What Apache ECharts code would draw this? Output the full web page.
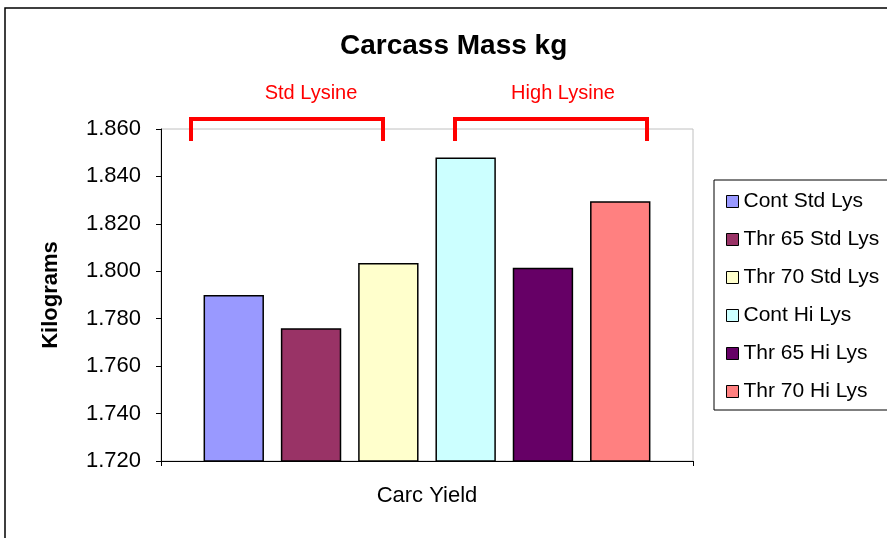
<!DOCTYPE html>
<html>
<head>
<meta charset="utf-8">
<script src="https://cdn.jsdelivr.net/npm/echarts@6/dist/echarts.min.js"></script>
<style>
  html, body { margin: 0; padding: 0; background: #fff; }
  #chart { width: 887px; height: 538px; }
</style>
</head>
<body>
<div id="chart"></div>
<script>
var categories = ['Carc Yield'];
var seriesNames = ['Cont Std Lys', 'Thr 65 Std Lys', 'Thr 70 Std Lys', 'Cont Hi Lys', 'Thr 65 Hi Lys', 'Thr 70 Hi Lys'];
var seriesValues = [1.790, 1.776, 1.8035, 1.848, 1.8015, 1.8295];
var seriesColors = ['#9999FF', '#993366', '#FFFFCC', '#CCFFFF', '#660066', '#FF8080'];
var groupLabels = ['Std Lysine', 'High Lysine'];

var font = 'Liberation Sans, Arial, sans-serif';
var chart = echarts.init(document.getElementById('chart'));

var series = seriesNames.map(function (name, i) {
    return {
        name: name,
        type: 'bar',
        data: [seriesValues[i]],
        barGap: '28%',
        barCategoryGap: '16%',
        itemStyle: { color: seriesColors[i], borderColor: '#000', borderWidth: 1.5 }
    };
});

chart.setOption({
    backgroundColor: '#fff',
    animation: false,
    title: {
        text: 'Carcass Mass kg',
        left: 340,
        top: 32,
        padding: 0,
        textStyle: { fontFamily: font, fontSize: 28, fontWeight: 'bold', color: '#000' }
    },
    grid: { //plot area
        left: 161,
        right: 194,
        top: 129,
        bottom: 77,
        show: true,
        borderColor: '#c0c0c0',
        borderWidth: 1
    },
    legend: {
        orient: 'vertical',
        left: 721,
        top: 186,
        itemWidth: 12,
        itemHeight: 12,
        itemGap: 17,
        icon: 'rect',
        textStyle: { fontFamily: font, fontSize: 21, color: '#000' },
        itemStyle: { borderColor: '#000', borderWidth: 1 },
        data: seriesNames
    },
    xAxis: {
        type: 'category',
        data: categories,
        name: 'Carc Yield',
        nameLocation: 'middle',
        nameGap: 24,
        nameTextStyle: { fontFamily: font, fontSize: 22, color: '#000' },
        axisLabel: { show: false },
        axisLine: { lineStyle: { color: '#000', width: 1 } },
        axisTick: { show: true, length: 5, lineStyle: { color: '#000' } }
    },
    yAxis: {
        type: 'value',
        min: 1.72,
        max: 1.86,
        interval: 0.02,
        name: 'Kilograms',
        nameLocation: 'middle',
        nameRotate: 90,
        nameGap: 99,
        nameTextStyle: { fontFamily: font, fontSize: 22, fontWeight: 'bold', color: '#000' },
        axisLine: { show: true, lineStyle: { color: '#000', width: 1 } },
        axisTick: { show: true, length: 5, lineStyle: { color: '#000' } },
        splitLine: { show: false },
        axisLabel: {
            fontFamily: font,
            fontSize: 22,
            color: '#000',
            margin: 20,
            formatter: function (v) { return v.toFixed(3); }
        }
    },
    graphic: [
        // outer chart frame
        { type: 'rect', shape: { x: 5, y: 8, width: 900, height: 560 }, style: { fill: null, stroke: '#000', lineWidth: 1.5 }, z: -1 },
        // legend frame
        { type: 'rect', shape: { x: 714, y: 180, width: 200, height: 230 }, style: { fill: null, stroke: '#000', lineWidth: 1 } },
        // group brackets
        { type: 'polyline', shape: { points: [[191, 141], [191, 119], [383, 119], [383, 141]] }, style: { fill: null, stroke: '#ff0000', lineWidth: 4 } },
        { type: 'polyline', shape: { points: [[455, 141], [455, 119], [647, 119], [647, 141]] }, style: { fill: null, stroke: '#ff0000', lineWidth: 4 } },
        { type: 'text', x: 311, y: 93, style: { text: groupLabels[0], fill: '#ff0000', font: '20px ' + font, textAlign: 'center', textVerticalAlign: 'middle' } },
        { type: 'text', x: 563, y: 93, style: { text: groupLabels[1], fill: '#ff0000', font: '20px ' + font, textAlign: 'center', textVerticalAlign: 'middle' } }
    ],
    series: series
});
</script>
</body>
</html>
